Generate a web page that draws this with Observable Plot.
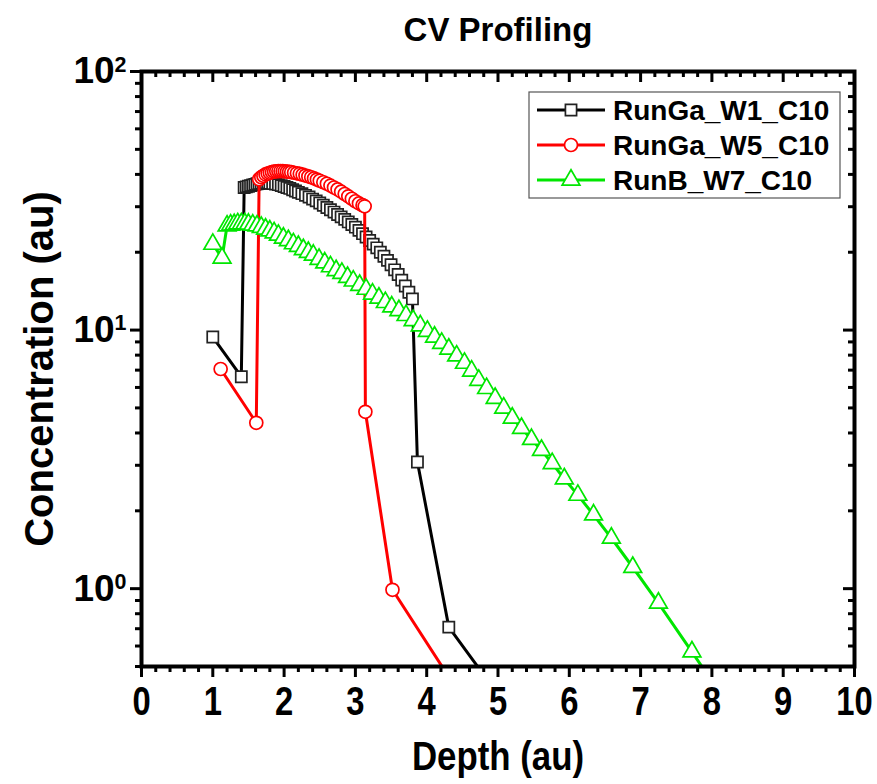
<!DOCTYPE html>
<html><head><meta charset="utf-8">
<script src="https://cdn.jsdelivr.net/npm/d3@7"></script>
<script src="https://cdn.jsdelivr.net/npm/@observablehq/plot@0.6"></script>
<style>
body{margin:0;background:#fff}
#chart svg{font-family:'Liberation Sans',Arial,sans-serif;font-weight:bold}
#chart svg text{font-family:'Liberation Sans',Arial,sans-serif;font-weight:bold}
</style></head><body><div id="chart"></div>
<script>
// ---- data ----
const seriesNames = ["RunGa_W1_C10", "RunGa_W5_C10", "RunB_W7_C10"];
const seriesColors = ["#000000", "#ff0000", "#00e600"];
const markerStroke = ["#222222", "#ff0000", "#00e600"];
const seriesSymbols = ["square", "circle", "triangle"];

const w1Depth = [1.00, 1.40, 1.44, 1.47, 1.50, 1.53, 1.56, 1.59, 1.62, 1.65, 1.68, 1.71, 1.74, 1.77, 1.80, 1.84, 1.88, 1.92, 1.96, 2.00, 2.04, 2.08, 2.12, 2.16, 2.20, 2.25, 2.30, 2.35, 2.40, 2.45, 2.50, 2.55, 2.60, 2.65, 2.70, 2.75, 2.80, 2.85, 2.90, 2.95, 3.00, 3.05, 3.10, 3.15, 3.20, 3.25, 3.30, 3.35, 3.40, 3.45, 3.50, 3.55, 3.60, 3.65, 3.70, 3.75, 3.80, 3.87, 4.31, 5.00];
const w1Conc = [9.4, 6.6, 35.6, 35.8, 36.0, 36.2, 36.4, 36.6, 36.8, 36.9, 37.0, 37.1, 37.1, 37.1, 37.0, 36.9, 36.7, 36.5, 36.2, 35.9, 35.6, 35.3, 34.9, 34.5, 34.1, 33.7, 33.2, 32.7, 32.1, 31.6, 31.0, 30.4, 29.8, 29.2, 28.6, 28.0, 27.4, 26.8, 26.2, 25.6, 25.0, 24.3, 23.6, 22.9, 22.2, 21.5, 20.8, 20.0, 19.3, 18.6, 17.9, 17.1, 16.4, 15.6, 14.8, 14.0, 13.2, 3.09, 0.71, 0.39];

const w5Depth = [1.11, 1.61, 1.65, 1.68, 1.71, 1.74, 1.77, 1.80, 1.83, 1.86, 1.89, 1.92, 1.95, 1.98, 2.01, 2.04, 2.07, 2.10, 2.14, 2.18, 2.22, 2.26, 2.30, 2.34, 2.38, 2.42, 2.46, 2.50, 2.55, 2.60, 2.65, 2.70, 2.75, 2.80, 2.85, 2.90, 2.95, 3.00, 3.05, 3.10, 3.13, 3.14, 3.52, 4.55];
const w5Conc = [7.07, 4.38, 38.3, 39.0, 39.5, 40.0, 40.3, 40.6, 40.8, 41.0, 41.1, 41.2, 41.2, 41.2, 41.1, 41.0, 40.9, 40.8, 40.6, 40.4, 40.2, 39.9, 39.6, 39.3, 39.0, 38.6, 38.2, 37.8, 37.3, 36.8, 36.2, 35.6, 35.0, 34.3, 33.6, 32.9, 32.2, 31.5, 30.9, 30.4, 30.1, 4.83, 0.99, 0.36];

const w7Depth = [1.00, 1.13, 1.20, 1.25, 1.30, 1.35, 1.40, 1.45, 1.50, 1.56, 1.62, 1.68, 1.74, 1.80, 1.86, 1.92, 1.99, 2.06, 2.13, 2.20, 2.27, 2.34, 2.41, 2.49, 2.57, 2.65, 2.73, 2.81, 2.89, 2.97, 3.06, 3.15, 3.24, 3.33, 3.42, 3.51, 3.61, 3.71, 3.81, 3.91, 4.01, 4.11, 4.21, 4.31, 4.42, 4.53, 4.63, 4.73, 4.84, 4.96, 5.08, 5.20, 5.33, 5.47, 5.61, 5.76, 5.93, 6.12, 6.34, 6.59, 6.89, 7.25, 7.72, 8.30];
const w7Conc = [21.5, 19.0, 25.3, 25.5, 25.6, 25.8, 25.8, 25.8, 25.7, 25.5, 25.3, 25.0, 24.6, 24.2, 23.8, 23.3, 22.7, 22.2, 21.6, 21.1, 20.5, 20.0, 19.5, 18.8, 18.2, 17.6, 17.0, 16.6, 16.0, 15.5, 14.9, 14.4, 13.8, 13.3, 12.8, 12.3, 11.9, 11.4, 10.9, 10.4, 9.9, 9.4, 8.9, 8.45, 7.95, 7.45, 6.95, 6.4, 5.95, 5.45, 5.0, 4.57, 4.17, 3.78, 3.43, 3.05, 2.66, 2.30, 1.93, 1.57, 1.21, 0.88, 0.57, 0.33];

const xMajorTicks = [0, 1, 2, 3, 4, 5, 6, 7, 8, 9, 10];
const xMinorTicks = d3.range(0, 10.001, 0.2).filter(v => Math.abs(v - Math.round(v)) > 1e-6);
const yMajorTicks = [1, 10, 100];
const yMinorTicks = [0.5, 0.6, 0.7, 0.8, 0.9, 2, 3, 4, 5, 6, 7, 8, 9, 20, 30, 40, 50, 60, 70, 80, 90];

const titleText = "CV Profiling";
const xLabelText = "Depth (au)";
const yLabelText = "Concentration (au)";

// ---- build table ----
const depthArrays = [w1Depth, w5Depth, w7Depth];
const concArrays = [w1Conc, w5Conc, w7Conc];
const tables = depthArrays.map((ds, i) => ds.map((d, j) => ({series: seriesNames[i], depth: d, conc: concArrays[i][j]})));

const W = 877, H = 784, mL = 141, mR = 23, mT = 71, mB = 118;
const plotW = W - mL - mR, plotH = H - mT - mB;
const symbolR = [6.3, 6.5, 6.6];

const seriesMarks = tables.flatMap((t, i) => [
  Plot.line(t, {x: "depth", y: "conc", stroke: seriesColors[i], strokeWidth: 3, clip: true}),
  Plot.dot(t, {x: "depth", y: "conc", symbol: seriesSymbols[i], r: symbolR[i], stroke: markerStroke[i], strokeWidth: 1.7, fill: "white", clip: true})
]);

const chart = Plot.plot({
  width: W, height: H,
  marginLeft: mL, marginRight: mR, marginTop: mT, marginBottom: mB,
  style: {background: "white", fontFamily: "'Liberation Sans', Arial, sans-serif", fontWeight: "bold"},
  x: {domain: [0, 10], label: null},
  y: {type: "log", domain: [0.5, 100], label: null},
  marks: [
    ...seriesMarks,
    Plot.frame({stroke: "black", strokeWidth: 4}),
    Plot.axisX({ticks: xMinorTicks, anchor: "bottom", tickSize: 6, strokeWidth: 3, tickFormat: () => "", label: null}),
    Plot.axisX({ticks: xMajorTicks, anchor: "bottom", tickSize: 11, tickPadding: 9, strokeWidth: 3, fontSize: 40, tickFormat: d => String(d), label: null}),
    Plot.ruleX(xMinorTicks, {x: d => d, insetBottom: plotH - 6, strokeWidth: 3}),
    Plot.ruleX(xMajorTicks, {x: d => d, insetBottom: plotH - 11, strokeWidth: 3}),
    Plot.axisY({ticks: yMinorTicks, anchor: "left", tickSize: 6, strokeWidth: 3, tickFormat: () => "", label: null}),
    Plot.axisY({ticks: yMajorTicks, anchor: "left", tickSize: 11, tickPadding: 4, strokeWidth: 3, fontSize: 37, tickFormat: d => "10^" + Math.round(Math.log10(d)), label: null}),
    Plot.ruleY(yMinorTicks, {y: d => d, insetLeft: plotW - 6, strokeWidth: 3}),
    Plot.ruleY(yMajorTicks, {y: d => d, insetLeft: plotW - 11, strokeWidth: 3}),
    Plot.text([titleText], {text: d => d, frameAnchor: "top", lineAnchor: "middle", dy: -41, fontSize: 33, fontWeight: "bold"}),
    Plot.text([xLabelText], {text: d => d, frameAnchor: "bottom", lineAnchor: "middle", dy: 91, fontSize: 40, fontWeight: "bold"}),
    Plot.text([yLabelText], {text: d => d, frameAnchor: "left", textAnchor: "middle", lineAnchor: "middle", dx: -101, rotate: -90, fontSize: 40, fontWeight: "bold"})
  ]
});
document.getElementById("chart").appendChild(chart);

const svg = d3.select(chart);

function squeeze(el, k) {
  const t = el.getAttribute("transform") || "";
  const x = +(el.getAttribute("x") || 0);
  el.setAttribute("transform", t + ` translate(${x},0) scale(${k},1) translate(${-x},0)`);
}

// superscript exponents on y tick labels
svg.selectAll('g[aria-label="y-axis tick label"] text').each(function() {
  const s = this.textContent;
  if (!s.includes("^")) return;
  const [base, exp] = s.split("^");
  const sel = d3.select(this);
  sel.text(base);
  sel.append("tspan").attr("dy", "-0.55em").attr("font-size", "0.58em").text(exp);
});
// narrow x tick labels and x label
svg.selectAll('g[aria-label="x-axis tick label"] text').each(function() { squeeze(this, 0.82); });
svg.selectAll('text').filter(function() { return this.textContent === xLabelText; }).each(function() { squeeze(this, 0.87); });

// legend
const lx = 529, ly = 92, lw = 311, lh = 106;
const lg = svg.append("g").attr("aria-label", "legend").attr("text-anchor", "start");
lg.append("rect").attr("x", lx).attr("y", ly).attr("width", lw).attr("height", lh)
  .attr("fill", "white").attr("stroke", "#555").attr("stroke-width", 1.2);
const symMap = {square: d3.symbolSquare, circle: d3.symbolCircle, triangle: d3.symbolTriangle};
seriesNames.forEach((name, i) => {
  const cy = ly + 18 + i * 35;
  lg.append("line").attr("x1", lx + 8).attr("x2", lx + 76).attr("y1", cy).attr("y2", cy)
    .attr("stroke", seriesColors[i]).attr("stroke-width", 3);
  lg.append("path").attr("transform", `translate(${lx + 42},${cy})`)
    .attr("d", d3.symbol(symMap[seriesSymbols[i]], Math.PI * symbolR[i] * symbolR[i])())
    .attr("fill", "white").attr("stroke", markerStroke[i]).attr("stroke-width", 1.7);
  lg.append("text").attr("x", lx + 84).attr("y", cy).attr("dy", "0.36em").attr("text-anchor", "start")
    .attr("font-size", 28).attr("font-weight", "bold").attr("fill", "black").text(name);
});
</script></body></html>
